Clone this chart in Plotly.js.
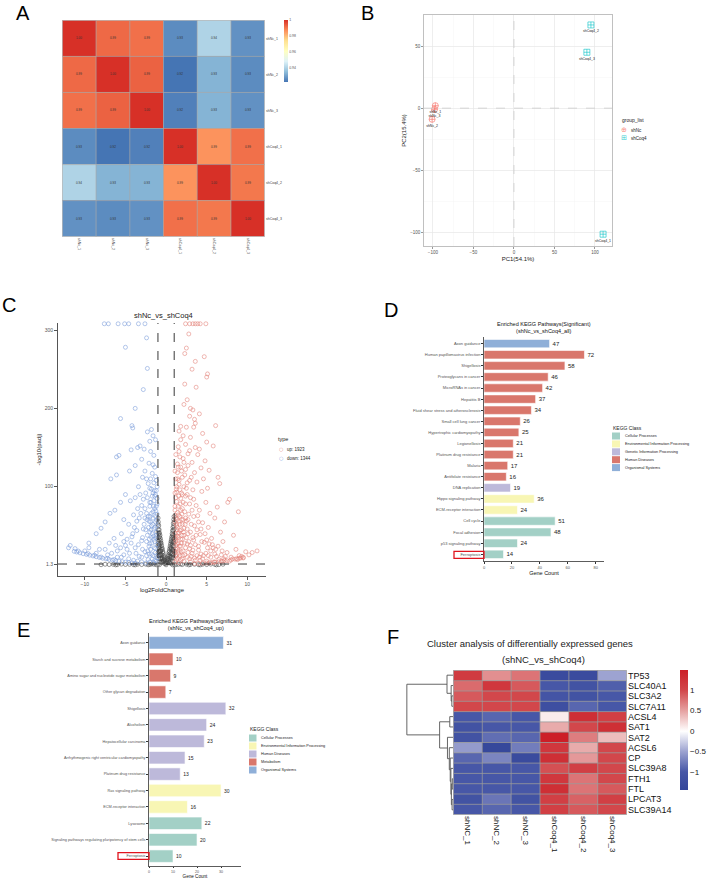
<!DOCTYPE html>
<html><head><meta charset="utf-8">
<script src="https://cdn.plot.ly/plotly-3.0.1.min.js"></script>
<style>html,body{margin:0;padding:0;background:#fff}#chart{width:708px;height:879px}</style>
</head><body><div id="chart"></div>
<script>
const FONT = 'Liberation Sans, Arial, Helvetica, sans-serif';
const W = 708, H = 879;

// ---------- A: sample correlation ----------
const corrSamples = ['shNc_1','shNc_2','shNc_3','shCoq4_1','shCoq4_2','shCoq4_3'];
const corrValues = [
  [1.000, 0.992, 0.991, 0.926, 0.940, 0.927],
  [0.992, 1.000, 0.993, 0.922, 0.933, 0.926],
  [0.991, 0.993, 1.000, 0.924, 0.933, 0.927],
  [0.926, 0.922, 0.924, 1.000, 0.986, 0.991],
  [0.940, 0.933, 0.933, 0.986, 1.000, 0.990],
  [0.927, 0.926, 0.927, 0.991, 0.990, 1.000]
];
const corrTicks = [0.94, 0.96, 0.98, 1];
const corrTickText = ['0.94','0.96','0.98','1'];

// ---------- B: PCA ----------
const pcaNcLabels = ['shNc_1','shNc_2','shNc_3'];
const pcaNcPC1 = [-97, -101, -98];
const pcaNcPC2 = [2, -9, -1];
const pcaCoqLabels = ['shCoq4_1','shCoq4_2','shCoq4_3'];
const pcaCoqPC1 = [110, 95, 90];
const pcaCoqPC2 = [-101.5, 67, 45];
const pcaXTicks = [-100, -50, 0, 50, 100];
const pcaYTicks = [-100, -50, 0, 50];

// ---------- C: volcano (log2FC, -log10 padj) ----------
const volcanoUp = [
[2.4,308],[2.9,308],[3.3,308],[3.6,308],[3.9,308],[4.2,308],[4.9,308],
[2.8,295],[2.5,277],[2.3,270],[4.7,266],[3.6,260],[3.2,250],[5.1,244],[5.0,240],[2.3,231],[3.7,227],[2.6,211],[2.2,205],[3.0,200],
[3.3,198],[4.1,193],[2.9,190],[3.5,186],[3.6,181],[6.1,178],[1.8,177],[2.5,176],[3.4,176],[1.6,171],[4.5,168],[2.1,165],[3.0,163],
[1.8,160],[5.0,157],[2.4,154],[5.8,152],[3.6,150],[1.5,151],[4.1,148],[2.9,146],[3.9,141],[1.7,138],[2.1,136],[4.8,133],[3.2,131],
[1.4,129],[2.7,127],[4.3,124],[5.3,121],[1.9,120],[3.5,118],[2.3,115],[6.4,112],[4.6,110],[1.2,110],[2.9,108],[3.8,106],[6.6,104],
[1.6,103],[2.2,100],[5.1,98],[3.3,96],[4.4,94],[1.3,93],[2.6,90],[7.8,84],[7.6,80],[3.0,86],[1.8,85],[4.9,80],[2.4,78],[3.7,76],
[1.1,75],[6.3,74],[2.0,72],[8.9,68],[4.1,70],[5.4,66],[2.8,65],[1.5,64],[3.4,62],[6.0,60],[1.9,58],[2.5,56],[7.2,55],[4.5,54],
[3.1,52],[1.3,50],[5.2,48],[2.2,47],[3.8,45],[1.7,44],[6.7,42],[2.7,40],[4.2,39],[8.3,38],[1.4,37],[3.3,35],[5.6,34],[2.0,33],
[7.0,30],[1.2,30],[4.7,29],[2.6,27],[3.6,26],[9.8,17],[11.2,18],[10.6,16],[6.4,24],[1.8,24],[5.1,22],[2.9,21],[8.6,20],[4.0,19],
[1.5,18],[7.5,16],[3.2,15],[6.0,14],[2.3,13],[9.0,12],[4.6,12],[1.2,11],[5.5,10],[8.0,10],[3.5,9],[7.1,8],[2.0,8],[6.5,7],[4.2,6],
[9.5,9],[8.8,7],[5.0,5],[3.0,4],[7.8,5],[6.0,4],[1.6,3],[10.2,13],[9.3,11],
[1.1,92],[1.2,86],[1.3,81],[1.1,70],[1.4,67],[1.2,60],[1.6,56],[1.3,45],[1.1,40],[1.5,35],[1.2,25],[1.4,21],[1.1,16],[1.3,7],
[1.7,12],[2.1,18],[2.4,22],[1.9,28],[2.2,38],[2.6,46],[2.0,52],[1.7,62],[2.3,68],[2.1,80],[1.9,92],[2.5,98],[1.6,108],[2.0,112],
[1.4,118],[1.8,125],[2.2,131],[1.2,141],[1.6,145],[2.7,142],[1.1,55],[1.2,35],[1.5,28],[1.8,33],[1.6,41],[1.4,48],[1.9,45],[1.7,52],
[2.4,60],[2.1,58],[1.5,75],[1.8,70],[1.3,100],[1.7,96],[2.4,88],[2.0,90],[1.1,120],[1.5,125],[2.8,30],[2.5,35],[3.0,42],[2.7,58],
[3.2,70],[2.9,78],[3.4,84],[2.6,105],[3.1,112],[2.4,122],[3.0,25],[3.4,32],[3.7,38],[3.5,50],[4.0,55],[3.9,63],[4.3,46],[4.8,40],
[4.4,30],[4.0,24],[5.0,32],[5.3,27],[5.8,22],[5.5,18],[4.9,15],[4.3,14],[3.8,12],[3.3,19],[2.6,10],[2.2,5],[1.8,6],[2.9,8],[3.6,6],
[4.5,8],[5.2,12],[6.2,11],[6.8,13],[7.3,11],[6.9,18],[6.1,20],[5.7,26],[1.1,4],[1.4,9],[1.2,20],[2.7,16],[3.1,11],[4.1,10],
[4.5,2.2],[5.0,2.6],[5.5,3.0],[6.0,3.5],[6.5,4.1],[7.0,4.8],[7.5,5.6],[8.0,6.5],[8.5,7.5],[9.0,8.6],[9.5,9.8],[3.5,1.9],[4.0,2.0],
[7.2,6.0],[8.2,7.8],[6.8,5.0],[5.8,3.8],[5.3,2.9],[9.2,9.0],[8.7,8.1],
[1.15,63],[1.35,58],[1.25,52],[1.45,41],[1.15,33],[1.35,27],[1.55,15],[1.25,13],[1.65,24],[1.85,17],[2.05,12],[1.95,38],[2.25,28],
[1.55,88],[1.25,97],[1.45,110],[2.15,42],[2.35,52],[1.75,78],[1.95,65]
];
const volcanoDown = [
[-7.6,308],[-7.1,308],[-5.9,308],[-5.1,308],[-4.6,308],[-3.4,308],[-2.6,308],
[-2.4,290],[-5.0,278],[-2.3,251],[-2.8,224],[-3.8,200],[-5.6,187],[-4.2,178],[-4.1,175],[-1.8,173],[-2.3,170],[-1.6,165],[-1.3,160],
[-2.0,158],[-3.2,152],[-3.5,150],[-2.7,148],[-4.3,147],[-1.9,145],[-1.5,140],[-5.8,140],[-6.1,138],[-3.0,135],[-2.1,130],[-3.8,127],
[-1.4,125],[-2.6,120],[-1.7,117],[-4.5,120],[-2.9,112],[-6.1,115],[-6.8,110],[-1.2,108],[-2.2,104],[-3.4,100],[-1.8,97],[-5.0,90],
[-2.5,92],[-1.4,88],[-3.8,86],[-4.4,82],[-2.0,80],[-1.1,78],[-5.6,80],[-3.0,76],[-6.3,70],[-6.9,66],[-2.6,72],[-1.6,68],[-4.0,64],
[-1.3,62],[-3.3,60],[-5.2,58],[-2.1,56],[-7.5,55],[-4.6,52],[-1.8,50],[-8.0,47],[-2.8,46],[-3.6,44],[-1.2,42],[-8.6,40],[-5.5,40],
[-2.3,38],[-4.2,36],[-6.4,34],[-1.5,33],[-3.0,31],[-9.5,28],[-7.0,28],[-2.0,27],[-5.0,25],[-12.0,22],[-11.8,25],[-11.2,21],[-3.8,22],
[-1.3,21],[-8.2,20],[-6.0,18],[-2.6,17],[-4.5,15],[-1.8,14],[-7.2,13],[-3.3,11],[-5.5,10],[-1.1,9],[-2.2,7],[-4.0,6],[-3.0,4],
[-1.5,3],[-2.5,2.5],
[-1.1,100],[-1.2,95],[-1.3,90],[-1.1,85],[-1.5,82],[-1.2,75],[-1.4,72],[-1.1,65],[-1.6,60],[-1.3,55],[-1.1,50],[-1.5,46],[-1.2,38],
[-1.4,30],[-1.1,26],[-1.3,16],[-1.6,12],[-1.2,5],[-1.7,8],[-1.9,20],[-2.1,24],[-1.8,35],[-2.0,42],[-1.7,40],[-1.9,55],[-2.2,62],
[-1.8,66],[-2.4,66],[-2.0,75],[-1.7,88],[-2.3,86],[-1.6,92],[-2.0,98],[-1.5,105],[-1.9,110],[-1.3,113],[-2.4,110],[-1.6,128],
[-2.5,45],[-2.7,52],[-2.4,30],[-2.9,35],[-2.6,60],[-3.1,66],[-2.8,84],[-3.2,90],[-3.5,72],[-3.6,56],[-3.9,48],[-4.1,40],[-3.4,26],
[-2.9,20],[-4.3,28],[-4.8,33],[-5.2,30],[-3.7,15],[-4.8,20],[-5.6,22],[-6.2,25],[-3.0,10],[-2.4,12],[-2.0,4],[-3.5,5],[-4.6,8],
[-5.2,13],[-6.0,10],[-6.7,15],[-7.5,20],[-8.6,15],[-9.5,22],[-10.0,18],[-2.1,14],[-1.4,6],
[-11.3,17.5],[-11.0,16.6],[-10.6,15.6],[-10.2,14.5],[-9.8,13.6],[-9.4,12.6],[-9.0,11.6],[-8.6,10.6],[-8.2,9.6],[-7.8,8.7],[-7.4,7.9],
[-7.0,7.1],[-6.6,6.3],[-6.2,5.6],[-5.8,4.9],[-5.4,4.3],[-5.0,3.7],[-4.6,3.2],[-4.2,2.8],[-3.8,2.4],[-10.8,17.8],[-9.6,14.6],
[-8.8,12.5],[-8.0,10.2],[-7.2,8.4],[-6.4,7.0],
[-1.15,57],[-1.35,48],[-1.25,35],[-1.45,22],[-1.15,12],[-1.55,37],[-1.65,52],[-1.85,45],[-1.75,28],[-2.05,33],[-2.25,18],
[-1.45,95],[-1.25,69],[-1.85,80],[-2.15,48],[-2.35,58],[-1.55,75],[-1.95,62]
];
const volcanoNS = [
[0.0,0.3],[-0.05,2],[0.05,3],[-0.1,4],[0.1,5],[-0.15,6],[0.15,7],[-0.2,8],[0.2,9],[-0.25,10],[0.25,11],[-0.3,12],[0.3,13],[-0.35,15],
[0.35,16],[-0.4,17],[0.4,18],[-0.45,20],[0.45,21],[-0.5,22],[0.5,24],[-0.55,25],[0.55,27],[-0.6,28],[0.6,30],[-0.65,31],[0.65,33],
[-0.7,34],[0.7,36],[-0.75,38],[0.75,40],[-0.8,41],[0.8,44],[-0.85,45],[0.85,48],[-0.9,50],[0.9,53],[-0.95,55],[0.95,58],[-0.98,60],
[0.98,62],[-0.3,5],[0.3,6],[-0.5,8],[0.5,10],[-0.6,14],[0.6,16],[-0.7,18],[0.7,20],[-0.8,22],[0.8,25],[-0.9,28],[0.9,30],[-0.95,35],
[0.95,38],[-0.9,40],[0.9,44],[-0.85,32],[0.85,35],[-0.75,24],[0.75,27],[-0.65,18],[0.65,21],[-0.55,12],[0.55,15],[-0.45,9],[0.45,11],
[-0.95,45],[0.95,50],[-0.8,36],[0.8,38],[-0.7,28],[0.7,30],[-0.6,20],[0.6,22],[-0.4,4],[0.4,3],[-0.9,18],[0.9,20],[-0.95,25],
[0.95,28],[-0.85,12],[0.85,15],[-0.7,8],[0.7,10],[-0.98,52],[0.98,55],
[-0.2,2],[0.2,3],[-0.35,6],[0.35,8],[-0.5,4],[0.5,5],[-0.62,9],[0.62,8],[-0.72,13],[0.72,14],[-0.82,17],[0.82,19],[-0.92,23],
[0.92,24],[-0.97,30],[0.97,33],[-0.88,8],[0.88,9],[-0.78,4],[0.78,5],[-0.92,12],[0.92,13],[-0.97,16],[0.97,18],[-0.99,42],[0.99,46],
[-0.6,3],[0.6,2],[-0.85,26],[0.85,29],
[-1.5,1.0],[-2,0.8],[-2.5,1.1],[-3,0.6],[-3.5,1.0],[-4,0.5],[-4.5,0.9],[-5,0.7],[-5.5,1.1],[-6,0.5],[-6.5,0.9],[-7,0.6],[-7.5,1.0],
[-8,0.4],[-1.2,0.3],[1.2,0.4],[1.5,0.9],[2,0.6],[2.5,1.1],[3,0.7],[3.5,1.0],[4,0.5],[4.5,1.0],[5,0.6],[5.5,1.1],[6,0.8],[6.5,0.5],
[7,1.0],[-1.0,0.6],[1.0,0.8],[-0.8,0.5],[0.8,0.3],[-2.2,0.3],[2.8,0.2],[-3.8,0.2],[4.2,0.2],[-6.2,0.2],[6.2,0.2],[-1.8,1.2],[1.8,1.2]
];
const upCount = 1923, downCount = 1344;
const volXTicks = [-10, -5, 0, 5, 10];
const volYTicks = [1.3, 100, 200, 300];

// ---------- D: KEGG all ----------
const keggAllTerms = ['Axon guidance','Human papillomavirus infection','Shigellosis','Proteoglycans in cancer','MicroRNAs in cancer',
 'Hepatitis B','Fluid shear stress and atherosclerosis','Small cell lung cancer','Hypertrophic cardiomyopathy','Legionellosis',
 'Platinum drug resistance','Malaria','Antifolate resistance','DNA replication','Hippo signaling pathway','ECM-receptor interaction',
 'Cell cycle','Focal adhesion','p53 signaling pathway','Ferroptosis'];
const keggAllCounts = [47,72,58,46,42,37,34,26,25,21,21,17,16,19,36,24,51,48,24,14];
const keggAllClass = ['Organismal Systems','Human Diseases','Human Diseases','Human Diseases','Human Diseases','Human Diseases',
 'Human Diseases','Human Diseases','Human Diseases','Human Diseases','Human Diseases','Human Diseases','Human Diseases',
 'Genetic Information Processing','Environmental Information Processing','Environmental Information Processing',
 'Cellular Processes','Cellular Processes','Cellular Processes','Cellular Processes'];
const keggAllLegend = ['Cellular Processes','Environmental Information Processing','Genetic Information Processing','Human Diseases','Organismal Systems'];
const keggAllColors = ['#A3D0C6','#F8F6B4','#BDB9DA','#D9776C','#8FAFD8'];

// ---------- E: KEGG up ----------
const keggUpTerms = ['Axon guidance','Starch and sucrose metabolism','Amino sugar and nucleotide sugar metabolism','Other glycan degradation',
 'Shigellosis','Alcoholism','Hepatocellular carcinoma','Arrhythmogenic right ventricular cardiomyopathy','Platinum drug resistance',
 'Ras signaling pathway','ECM-receptor interaction','Lysosome','Signaling pathways regulating pluripotency of stem cells','Ferroptosis'];
const keggUpCounts = [31,10,9,7,32,24,23,15,13,30,16,22,20,10];
const keggUpClass = ['Organismal Systems','Metabolism','Metabolism','Metabolism','Human Diseases','Human Diseases','Human Diseases',
 'Human Diseases','Human Diseases','Environmental Information Processing','Environmental Information Processing',
 'Cellular Processes','Cellular Processes','Cellular Processes'];
const keggUpLegend = ['Cellular Processes','Environmental Information Processing','Human Diseases','Metabolism','Organismal Systems'];
const keggUpColors = ['#A3D0C6','#F8F6B4','#BDB9DA','#D9776C','#8FAFD8'];

// ---------- F: ferroptosis gene heatmap ----------
const geneNames = ['TP53','SLC40A1','SLC3A2','SLC7A11','ACSL4','SAT1','SAT2','ACSL6','CP','SLC39A8','FTH1','FTL','LPCAT3','SLC39A14'];
const geneSamples = ['shNC_1','shNC_2','shNC_3','shCoq4_1','shCoq4_2','shCoq4_3'];
const geneZ = [
  [ 1.15, 0.60, 0.75,-1.30,-1.30,-0.50],
  [ 0.80, 1.20, 0.90,-1.00,-1.10,-0.95],
  [ 0.90, 1.00, 1.00,-1.05,-1.10,-1.00],
  [ 1.00, 1.00, 1.00,-1.20,-0.90,-1.00],
  [-1.00,-0.90,-1.00, 0.10, 1.30, 1.10],
  [-1.10,-1.00,-1.00, 0.45, 1.00, 1.30],
  [-1.10,-0.85,-0.90, 1.50, 0.70, 0.35],
  [-0.55,-1.40,-0.75, 1.20, 0.45, 1.00],
  [-0.90,-0.70,-1.30, 1.30, 0.55, 1.00],
  [-1.00,-1.00,-1.00, 0.95, 1.10, 1.00],
  [-1.00,-1.00,-1.00, 1.20, 0.75, 1.00],
  [-1.00,-1.00,-1.00, 1.30, 0.75, 0.90],
  [-1.10,-0.80,-1.10, 1.10, 0.85, 1.10],
  [-1.00,-0.90,-1.00, 1.10, 0.90, 1.00]
];
// hierarchical merges: [childA, childB, height]; new node ids start at 14
const geneMerges = [
  [2,3,0.25],[1,14,0.4],[0,15,1.3],[4,5,0.7],[10,11,0.15],[12,13,0.2],[18,19,0.35],
  [9,20,0.45],[8,21,0.6],[7,22,0.8],[6,23,1.2],[17,24,2.9],[16,25,10]
];
const geneTicks = [-1,-0.5,0,0.5,1];
const geneTickText = ['\u22121','\u22120.5','0','0.5','1'];

// ---------- helpers ----------
const dx = (a,b) => [a/W, b/W];
const dy = (t,b) => [1-b/H, 1-t/H];
const px = v => v/W;
const py = v => 1-v/H;
const annotations = [];
const shapes = [];
function ann(text, x, y, size, o) {
  annotations.push(Object.assign({text, x:px(x), y:py(y), xref:'paper', yref:'paper', showarrow:false,
    xanchor:'center', yanchor:'middle', font:{family:FONT, size, color:'#111'}}, o||{}));
}

const traces = [];

// A heatmap
traces.push({type:'heatmap', x:corrSamples, y:corrSamples, z:corrValues, xaxis:'x', yaxis:'y',
  zmin:0.922, zmax:1.0,
  colorscale:[[0,'#4575B4'],[0.1667,'#91BFDB'],[0.3333,'#E0F3F8'],[0.5,'#FFFFBF'],[0.6667,'#FEE090'],[0.8333,'#FC8D59'],[1,'#D73027']],
  texttemplate:'%{z:.2f}', textfont:{size:3, color:'#333', family:FONT},
  colorbar:{x:px(284), xanchor:'left', y:py(20), yanchor:'top', len:62, lenmode:'pixels', thickness:4,
    xpad:0, ypad:0, outlinewidth:0, tickvals:corrTicks, ticktext:corrTickText, ticks:'', tickfont:{size:3.5, color:'#555', family:FONT}},
  hoverinfo:'skip'});
for (let i=0;i<=corrSamples.length;i++){
  shapes.push({type:'line', xref:'x', yref:'y', x0:i-0.5, x1:i-0.5, y0:-0.5, y1:corrSamples.length-0.5, line:{color:'#a8a8a8', width:0.7}});
  shapes.push({type:'line', xref:'x', yref:'y', y0:i-0.5, y1:i-0.5, x0:-0.5, x1:corrSamples.length-0.5, line:{color:'#a8a8a8', width:0.7}});
}

// B PCA
traces.push({type:'scatter', mode:'markers+text', x:pcaNcPC1, y:pcaNcPC2, text:pcaNcLabels, xaxis:'x2', yaxis:'y2',
  textposition:'bottom center', textfont:{size:3.5, color:'#222', family:FONT}, cliponaxis:false,
  marker:{symbol:'circle-cross-open', size:6, color:'rgba(248,118,109,0.75)', line:{width:0.9}}, hoverinfo:'skip'});
traces.push({type:'scatter', mode:'markers+text', x:pcaCoqPC1, y:pcaCoqPC2, text:pcaCoqLabels, xaxis:'x2', yaxis:'y2',
  textposition:'bottom center', textfont:{size:3.5, color:'#222', family:FONT}, cliponaxis:false,
  marker:{symbol:'square-cross-open', size:6, color:'rgba(0,191,196,0.65)', line:{width:0.9}}, hoverinfo:'skip'});
shapes.push({type:'line', xref:'x2', yref:'y2 domain', x0:0, x1:0, y0:0, y1:1, line:{color:'#c4c4c4', width:0.7, dash:'dash'}});
shapes.push({type:'line', xref:'x2 domain', yref:'y2', x0:0, x1:1, y0:0, y1:0, line:{color:'#c4c4c4', width:0.7, dash:'dash'}});
ann('group_list', 620, 120, 5, {xanchor:'left', font:{family:FONT,size:5,color:'#222'}});
ann('\u2295', 624, 130, 7, {font:{family:'DejaVu Sans',size:7,color:'rgba(248,118,109,0.85)'}});
ann('shNc', 629, 130, 4.5, {xanchor:'left', font:{family:FONT,size:4.5,color:'#222'}});
ann('\u229E', 624, 138.5, 7, {font:{family:'DejaVu Sans',size:7,color:'rgba(0,191,196,0.8)'}});
ann('shCoq4', 629, 138.5, 4.5, {xanchor:'left', font:{family:FONT,size:4.5,color:'#222'}});

// C volcano
const volMarker = c => ({symbol:'circle-open', size:4, color:c, line:{width:0.7}});
traces.push({type:'scatter', mode:'markers', x:volcanoNS.map(p=>p[0]), y:volcanoNS.map(p=>p[1]), xaxis:'x3', yaxis:'y3',
  marker:volMarker('rgba(70,70,70,0.8)'), hoverinfo:'skip'});
traces.push({type:'scatter', mode:'markers', x:volcanoDown.map(p=>p[0]), y:volcanoDown.map(p=>p[1]), xaxis:'x3', yaxis:'y3',
  marker:volMarker('rgba(120,155,218,0.8)'), hoverinfo:'skip', cliponaxis:false});
traces.push({type:'scatter', mode:'markers', x:volcanoUp.map(p=>p[0]), y:volcanoUp.map(p=>p[1]), xaxis:'x3', yaxis:'y3',
  marker:volMarker('rgba(226,128,118,0.8)'), hoverinfo:'skip', cliponaxis:false});
[-1,1].forEach(v => shapes.push({type:'line', xref:'x3', yref:'y3 domain', x0:v, x1:v, y0:0, y1:1, line:{color:'#222', width:0.9, dash:'dash'}}));
shapes.push({type:'line', xref:'x3 domain', yref:'y3', x0:0, x1:1, y0:1.3, y1:1.3, line:{color:'#222', width:0.9, dash:'dash'}});
ann('shNc_vs_shCoq4', 163, 315, 7.5, {font:{family:FONT,size:7.5,color:'#222'}});
ann('type', 276, 439, 5.5, {xanchor:'left', font:{family:FONT,size:5.5,color:'#222'}});
ann('\u25CB', 281, 449, 5, {font:{family:'DejaVu Sans',size:5,color:'rgba(226,128,118,0.9)'}});
ann('up: ' + upCount, 285, 449, 4.5, {xanchor:'left', font:{family:FONT,size:4.5,color:'#222'}});
ann('\u25CB', 281, 458, 5, {font:{family:'DejaVu Sans',size:5,color:'rgba(120,155,218,0.9)'}});
ann('down: ' + downCount, 285, 458, 4.5, {xanchor:'left', font:{family:FONT,size:4.5,color:'#222'}});

// D / E bars
function keggBars(terms, counts, classes, legendNames, colors, xa, ya, fs) {
  legendNames.forEach((cls, k) => {
    const idx = terms.map((t,i)=>i).filter(i => classes[i] === cls);
    if (!idx.length) return;
    traces.push({type:'bar', orientation:'h', xaxis:xa, yaxis:ya,
      y: idx.map(i=>terms[i]), x: idx.map(i=>counts[i]), text: idx.map(i=>String(counts[i])),
      textposition:'outside', cliponaxis:false, textfont:{size:fs, color:'#222', family:FONT},
      marker:{color:colors[k], line:{color:'#ffffff', width:0.6}}, width:0.76, hoverinfo:'skip'});
  });
}
keggBars(keggAllTerms, keggAllCounts, keggAllClass, keggAllLegend, keggAllColors, 'x4', 'y4', 6);
keggBars(keggUpTerms, keggUpCounts, keggUpClass, keggUpLegend, keggUpColors, 'x5', 'y5', 5);

ann('Enriched KEGG Pathways(Significant)<br>(shNc_vs_shCoq4_all)', 544, 327.5, 5.5, {font:{family:FONT,size:5.5,color:'#111'}});
ann('Enriched KEGG Pathways(Significant)<br>(shNc_vs_shCoq4_up)', 196, 624.5, 5.5, {font:{family:FONT,size:5.5,color:'#111'}});
ann('KEGG Class', 611, 428, 5, {xanchor:'left', font:{family:FONT,size:5,color:'#222'}});
keggAllLegend.forEach((n,k) => {
  const yc = 436 + 7.9*k;
  shapes.push({type:'rect', xref:'paper', yref:'paper', x0:px(612), x1:px(620), y0:py(yc+3.5), y1:py(yc-3.5), fillcolor:keggAllColors[k], line:{width:0}});
  ann(n, 623, yc, 3.8, {xanchor:'left', font:{family:FONT,size:3.8,color:'#222'}});
});
ann('KEGG Class', 248, 729, 5, {xanchor:'left', font:{family:FONT,size:5,color:'#222'}});
keggUpLegend.forEach((n,k) => {
  const yc = 738 + 8*k;
  shapes.push({type:'rect', xref:'paper', yref:'paper', x0:px(249), x1:px(256.5), y0:py(yc+3.5), y1:py(yc-3.5), fillcolor:keggUpColors[k], line:{width:0}});
  ann(n, 259, yc, 3.8, {xanchor:'left', font:{family:FONT,size:3.8,color:'#222'}});
});
// highlight boxes around Ferroptosis labels
shapes.push({type:'rect', xref:'paper', yref:'y4', x0:px(454), x1:px(484), y0:keggAllTerms.length-1-0.27, y1:keggAllTerms.length-1+0.36, line:{color:'#E0141E', width:1.3}});
shapes.push({type:'rect', xref:'paper', yref:'y5', x0:px(118), x1:px(149), y0:keggUpTerms.length-1-0.22, y1:keggUpTerms.length-1+0.2, line:{color:'#E0141E', width:1.3}});

// F heatmap
traces.push({type:'heatmap', x:geneSamples, y:geneNames, z:geneZ, xaxis:'x6', yaxis:'y6', zmin:-1.45, zmax:1.5,
  colorscale:[[0,'#34469A'],[0.15,'#4656A6'],[0.32,'#9CA2D0'],[0.49,'#FFFFFF'],[0.66,'#E6A2A2'],[0.83,'#D2474B'],[1,'#CC1F27']],
  colorbar:{x:px(680), xanchor:'left', y:py(670), yanchor:'top', len:120, lenmode:'pixels', thickness:8, xpad:0, ypad:0,
    outlinewidth:0, tickvals:geneTicks, ticktext:geneTickText, ticks:'', tickfont:{size:8, color:'#222', family:FONT}},
  hoverinfo:'skip'});
for (let i=0;i<=geneSamples.length;i++)
  shapes.push({type:'line', xref:'x6', yref:'y6', x0:i-0.5, x1:i-0.5, y0:-0.5, y1:geneNames.length-0.5, line:{color:'#9a9a9a', width:0.8}});
for (let j=0;j<=geneNames.length;j++)
  shapes.push({type:'line', xref:'x6', yref:'y6', y0:j-0.5, y1:j-0.5, x0:-0.5, x1:geneSamples.length-0.5, line:{color:'#9a9a9a', width:0.8}});
// dendrogram from merges
const nodeH = geneNames.map(()=>0), nodeY = geneNames.map((_,i)=>i);
const dendX = [], dendY = [];
geneMerges.forEach(([a,b,h]) => {
  dendX.push(nodeH[a], h, h, nodeH[b], null);
  dendY.push(nodeY[a], nodeY[a], nodeY[b], nodeY[b], null);
  nodeH.push(h); nodeY.push((nodeY[a]+nodeY[b])/2);
});
traces.push({type:'scatter', mode:'lines', x:dendX, y:dendY, xaxis:'x7', yaxis:'y7', line:{color:'#555', width:0.9}, hoverinfo:'skip'});
ann('Cluster analysis of differentially expressed genes', 530, 643, 9.5, {font:{family:FONT,size:9.5,color:'#222'}});
ann('(shNC_vs_shCoq4)', 543, 659, 9.5, {font:{family:FONT,size:9.5,color:'#222'}});

// panel letters
[['A',23,13],['B',367,13],['C',9,305],['D',391,310],['E',23,630],['F',393,637]].forEach(([t,x,y]) =>
  ann(t, x, y, 20, {font:{family:FONT,size:20,color:'#000'}}));

const tf = (s,c) => ({size:s, color:c||'#555', family:FONT});
const catTicks = arr => ({tickmode:'array', tickvals:arr, ticktext:arr});
const layout = {
  width:W, height:H, autosize:false, margin:{l:0,r:0,t:0,b:0}, showlegend:false,
  paper_bgcolor:'#fff', plot_bgcolor:'rgba(0,0,0,0)', font:{family:FONT}, barmode:'overlay',
  annotations, shapes,
  // A
  xaxis:Object.assign({domain:dx(62,265), anchor:'y', tickangle:90, tickfont:tf(3.5,'#444'), ticks:'', showgrid:false, zeroline:false}, catTicks(corrSamples)),
  yaxis:Object.assign({domain:dy(20,237), anchor:'x', side:'right', autorange:'reversed', tickfont:tf(3.5,'#444'), ticks:'', showgrid:false, zeroline:false}, catTicks(corrSamples)),
  // B
  xaxis2:{domain:dx(424,612), anchor:'y2', range:[-111,121], tickvals:pcaXTicks, showgrid:true, gridcolor:'#e6e6e6', gridwidth:0.6,
    minor:{dtick:25, tick0:0, showgrid:true, gridcolor:'#f3f3f3', gridwidth:0.4},
    zeroline:false, showline:true, mirror:true, linecolor:'#b0b0b0', linewidth:0.8, ticks:'outside', ticklen:2, tickcolor:'#999',
    tickfont:tf(4.5), title:{text:'PC1(54.1%)', font:tf(6,'#222'), standoff:2}},
  yaxis2:{domain:dy(15,246), anchor:'x2', range:[-111,75], tickvals:pcaYTicks, showgrid:true, gridcolor:'#e6e6e6', gridwidth:0.6,
    minor:{dtick:25, tick0:0, showgrid:true, gridcolor:'#f3f3f3', gridwidth:0.4},
    zeroline:false, showline:true, mirror:true, linecolor:'#b0b0b0', linewidth:0.8, ticks:'outside', ticklen:2, tickcolor:'#999',
    tickfont:tf(4.5), title:{text:'PC2(15.4%)', font:tf(6,'#222'), standoff:2}},
  // C
  xaxis3:{domain:dx(58,266), anchor:'y3', range:[-13.3,12.3], tickvals:volXTicks, showgrid:false, zeroline:false, showline:true,
    linecolor:'#555', linewidth:1, ticks:'outside', ticklen:3, tickcolor:'#555', tickfont:tf(5),
    title:{text:'log2FoldChange', font:tf(6,'#222'), standoff:1}},
  yaxis3:{domain:dy(323,576), anchor:'x3', range:[-14,309], tickvals:volYTicks, ticktext:['1.3','100','200','300'], showgrid:false,
    zeroline:false, showline:true, linecolor:'#555', linewidth:1, ticks:'outside', ticklen:3, tickcolor:'#555', tickfont:tf(5),
    title:{text:'-log10(padj)', font:tf(6,'#222'), standoff:2}},
  // D
  xaxis4:{domain:dx(484,604), anchor:'y4', range:[0,86], tickvals:[0,20,40,60,80], showgrid:false, zeroline:false, showline:true,
    linecolor:'#333', linewidth:0.8, ticks:'outside', ticklen:2, tickcolor:'#333', tickfont:tf(4),
    title:{text:'Gene Count', font:tf(5.5,'#111'), standoff:1}},
  yaxis4:Object.assign({domain:dy(337,561), anchor:'x4', type:'category', categoryorder:'array', categoryarray:keggAllTerms,
    range:[keggAllTerms.length-0.4,-0.6], showgrid:false, zeroline:false, showline:true, linecolor:'#333', linewidth:0.8,
    ticks:'outside', ticklen:2, tickcolor:'#333', tickfont:tf(4)}, catTicks(keggAllTerms)),
  // E
  xaxis5:{domain:dx(149,241), anchor:'y5', range:[0,38.3], tickvals:[0,10,20,30], showgrid:false, zeroline:false, showline:true,
    linecolor:'#333', linewidth:0.8, ticks:'outside', ticklen:1.5, tickcolor:'#333', tickfont:tf(3.6),
    title:{text:'Gene Count', font:tf(4.6,'#111'), standoff:0}},
  yaxis5:Object.assign({domain:dy(633,866), anchor:'x5', type:'category', categoryorder:'array', categoryarray:keggUpTerms,
    range:[keggUpTerms.length-0.4,-0.6], showgrid:false, zeroline:false, showline:true, linecolor:'#333', linewidth:0.8,
    ticks:'outside', ticklen:2, tickcolor:'#333', tickfont:tf(3.8)}, catTicks(keggUpTerms)),
  // F
  xaxis6:Object.assign({domain:dx(453,627), anchor:'y6', tickangle:90, tickfont:tf(8,'#111'), ticks:'', showgrid:false, zeroline:false}, catTicks(geneSamples)),
  yaxis6:Object.assign({domain:dy(670,815), anchor:'x6', side:'right', autorange:'reversed', tickfont:tf(9,'#111'), ticks:'', showgrid:false, zeroline:false}, catTicks(geneNames)),
  xaxis7:{domain:dx(405,453), anchor:'y7', range:[10.4,0], visible:false, showgrid:false, zeroline:false},
  yaxis7:{domain:dy(670,815), anchor:'x7', range:[geneNames.length-0.5,-0.5], visible:false, showgrid:false, zeroline:false}
};
Plotly.newPlot('chart', traces, layout, {staticPlot:true, displayModeBar:false});
</script></body></html>
